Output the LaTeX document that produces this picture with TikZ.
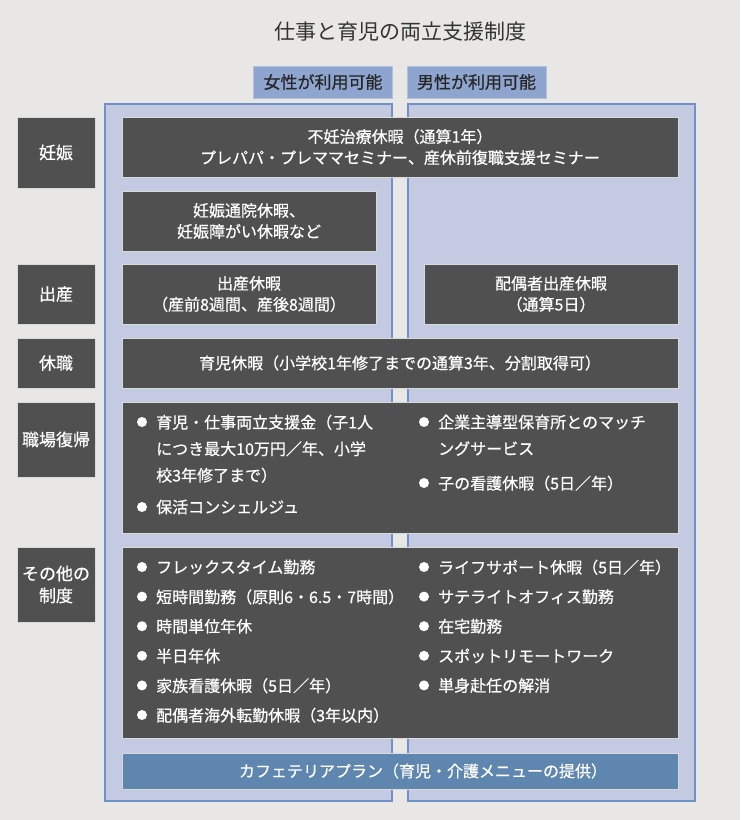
\documentclass[tikz,border=0pt]{standalone}
\usepackage{fontspec}
\newfontfamily\jpfont{Noto Sans CJK JP}
\newfontfamily\jpmid[FakeBold=0.6]{Noto Sans CJK JP}
\usetikzlibrary{positioning}
\definecolor{bggrey}{HTML}{E8E7E5}
\definecolor{panelfill}{HTML}{C5CAE3}
\definecolor{paneledge}{HTML}{6E91C9}
\definecolor{headfill}{HTML}{8EA6CF}
\definecolor{darkbox}{HTML}{505050}
\definecolor{cafefill}{HTML}{5E86AE}
\definecolor{titletext}{HTML}{333333}
\tikzset{
  sbox/.style={draw=white!85!black,line width=0.8pt,fill=darkbox,text=white,align=center,inner sep=0pt,font=\jpmid\fontsize{16}{21}\selectfont},
  rowlab/.style={sbox,minimum width=78pt,font=\jpmid\fontsize{17}{22}\selectfont},
  headbox/.style={draw=headfill!70!white,line width=0.8pt,fill=headfill,text=black!85,minimum width=139pt,minimum height=32pt,inner sep=0pt,font=\jpmid\fontsize{17}{20}\selectfont},
  panel/.style={draw=paneledge,line width=1.2pt,fill=panelfill},
  item/.style={text=white,align=left,inner sep=0pt,anchor=north west,font=\jpmid\fontsize{16}{26.5}\selectfont},
  dot/.style={fill=white}
}
\begin{document}
\begin{tikzpicture}[x=1pt,y=-1pt]
  % background
  \fill[bggrey] (0,0) rectangle (740,820);
  \node[font=\jpfont\fontsize{21}{24}\selectfont,text=titletext] (title) at (400,32) {仕事と育児の両立支援制度};
  % column panels
  \draw[panel] (105,104) rectangle (392,801);
  \draw[panel] (408,104) rectangle (695,801);
  \node[headbox] (hdrF) at (323,82) {女性が利用可能};
  \node[headbox] (hdrM) at (476.5,82) {男性が利用可能};
  % row labels
  \node[rowlab,minimum height=71pt] (labA) at (56,152.5) {妊娠};
  \node[rowlab,minimum height=60pt] (labB) at (56,294) {出産};
  \node[rowlab,minimum height=50pt] (labC) at (56,363) {休職};
  \node[rowlab,minimum height=75pt] (labD) at (56,439.5) {職場復帰};
  \node[rowlab,minimum height=75pt] (labE) at (56,584.5) {その他の\\制度};
  % boxes
  \node[sbox,minimum width=556pt,minimum height=60pt] (funin) at (400,147) {不妊治療休暇（通算1年）\\プレパパ・プレママセミナー、産休前復職支援セミナー};
  \node[sbox,minimum width=254pt,minimum height=60pt] (tsuin) at (249,221) {妊娠通院休暇、\\妊娠障がい休暇など};
  \node[sbox,minimum width=254pt,minimum height=60pt] (sanq) at (249,294) {出産休暇\\（産前8週間、産後8週間）};
  \node[sbox,minimum width=254pt,minimum height=60pt] (haigu) at (551,294) {配偶者出産休暇\\（通算5日）};
  \node[sbox,minimum width=556pt,minimum height=50pt] (ikuji) at (400,363) {育児休暇（小学校1年修了までの通算3年、分割取得可）};
  \node[sbox,minimum width=556pt,minimum height=131pt] (fukki) at (400,467.5) {};
  \node[sbox,minimum width=556pt,minimum height=191pt] (sonota) at (400,642.5) {};
  \node[sbox,fill=cafefill,minimum width=556pt,minimum height=36pt] (cafe) at (400,771) {\hspace*{46pt}カフェテリアプラン（育児・介護メニューの提供）};
  % return to work
  \node[item] (a1) at (156,414.5) {育児・仕事両立支援金（子1人\\につき最大10万円／年、小学\\校3年修了まで）};
  \node[item] (a2) at (156,499.5) {保活コンシェルジュ};
  \node[item] (b1) at (438,414.5) {企業主導型保育所とのマッチ\\ングサービス};
  \node[item] (b2) at (438,475.5) {子の看護休暇（5日／年）};
  \foreach \n in {a1,a2,b1,b2}
    \fill[dot] ([shift={(-14,7.5)}]\n.north west) circle (5pt);
  % other
  \foreach \t [count=\i] in {フレックスタイム勤務,短時間勤務（原則6・6.5・7時間）,時間単位年休,半日年休,家族看護休暇（5日／年）,配偶者海外転勤休暇（3年以内）}{
    \node[item] (c\i) at (156,{559.5+29.6*(\i-1)}) {\t};
    \fill[dot] ([shift={(-14,7.5)}]c\i.north west) circle (5pt);
  }
  \foreach \t [count=\i] in {ライフサポート休暇（5日／年）,サテライトオフィス勤務,在宅勤務,スポットリモートワーク,単身赴任の解消}{
    \node[item] (d\i) at (438,{559.5+29.6*(\i-1)}) {\t};
    \fill[dot] ([shift={(-14,7.5)}]d\i.north west) circle (5pt);
  }
\end{tikzpicture}
\end{document}
